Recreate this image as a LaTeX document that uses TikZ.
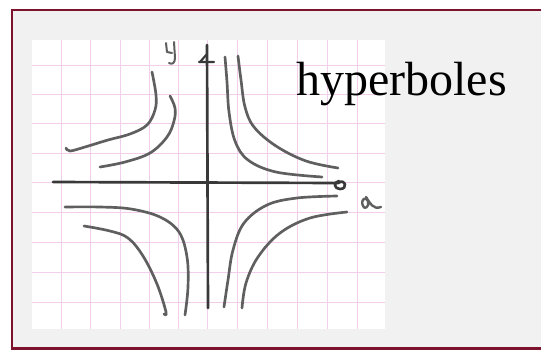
\documentclass[tikz,border=0pt]{standalone}
\usepackage{fontspec}
\setmainfont{Liberation Serif}
\definecolor{framered}{RGB}{125,18,44}
\definecolor{slidegray}{RGB}{241,241,241}
\definecolor{gridpink}{RGB}{242,205,236}
\definecolor{pencil}{RGB}{95,95,95}
\usetikzlibrary{positioning}

\begin{document}
\begin{tikzpicture}[x=0.75pt, y=-0.75pt,
    pen/.style={draw=pencil, line width=2pt, line cap=round, line join=round},
    sketch/.style={pen, smooth, tension=0.6}]
  \useasboundingbox (0,0) rectangle (541,350);
  % slide frame
  \fill[white] (0,0) rectangle (541,350);
  \draw[framered, line width=1.6pt, fill=slidegray] (12,10) rectangle (548,348.5);
  % squared paper
  \fill[white] (32,40) rectangle (385,329);
  \foreach \gx in {61,90,120,149,178,207,237,267,297,327,357}
    \draw[gridpink, line width=0.5pt] (\gx,40) -- (\gx,329);
  \foreach \gy in {65,94,123,153,182,212,242,272,302}
    \draw[gridpink, line width=0.5pt] (32,\gy) -- (385,\gy);
  % axes
  \draw[pen, draw=pencil!60!black] (207,45) -- (208,308);
  \draw[pen, draw=pencil!60!black] (53,182) -- (338,183)
    .. controls (346,178) and (348,189) .. (340,189)
    .. controls (334,189) and (333,182) .. (339,181);
  \draw[pen, draw=pencil!60!black, line width=1.6pt] (199,62) -- (214,62) (200,62) -- (207,54);
  % hand written labels
  \draw[pen, line width=1.5pt] (166,43) -- (167,52) -- (172,53)
    (174,42) -- (175,58) .. controls (175,63) and (172,65) .. (169,63);
  \draw[pen, line width=1.8pt] (363,206) .. controls (360,199) and (366,196) .. (368,201)
    .. controls (370,207) and (364,210) .. (363,206)
    (366,197) .. controls (370,203) and (373,210) .. (381,207);
  % hyperbolas
  \draw[sketch] plot coordinates {(152,72) (156,95) (155,110) (147,125) (130,134) (108,140) (85,147) (70,151) (66,148)};
  \draw[sketch] plot coordinates {(170,96) (175,108) (174,121) (167,137) (150,153) (125,162) (100,167)};
  \draw[sketch] plot coordinates {(225,57) (227,82) (229,112) (235,141) (248,160) (276,172) (322,177)};
  \draw[sketch] plot coordinates {(238,56) (241,80) (245,107) (254,127) (276,146) (306,161) (338,168)};
  \draw[sketch] plot coordinates {(65,207) (100,207) (131,209) (160,217) (179,232) (187,257) (188,287) (185,315)};
  \draw[sketch] plot coordinates {(84,226) (110,231) (128,238) (143,256) (157,284) (166,312) (164,314)};
  \draw[sketch] plot coordinates {(337,196) (297,198) (267,205) (244,223) (233,250) (228,280) (224,307)};
  \draw[sketch] plot coordinates {(347,212) (310,218) (280,233) (258,257) (246,283) (242,308)};
  % title
  \node[anchor=base west, inner sep=0pt, font=\fontsize{36}{40}\selectfont] (title) at (296,95) {hyperboles};
\end{tikzpicture}
\end{document}
